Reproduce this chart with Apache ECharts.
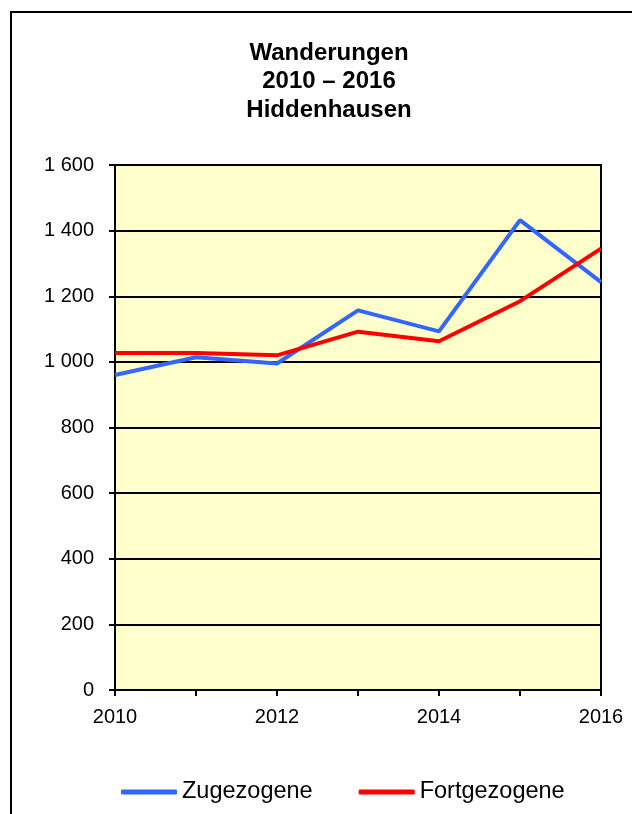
<!DOCTYPE html>
<html><head><meta charset="utf-8">
<script src="https://cdn.jsdelivr.net/npm/echarts@6/dist/echarts.min.js"></script>
<style>html,body{margin:0;padding:0;background:#fff}#c{width:632px;height:814px}</style>
</head><body><div id="c"></div>
<script>
var years = ['2010','2011','2012','2013','2014','2015','2016'];
var zugezogene = [960, 1014, 995, 1157, 1093, 1432, 1243];
var fortgezogene = [1027, 1027, 1020, 1092, 1063, 1185, 1345];
var yTicks = [0, 200, 400, 600, 800, 1000, 1200, 1400, 1600];

var chart = echarts.init(document.getElementById('c'));
chart.setOption({
  animation: false,
  backgroundColor: '#fff',
  graphic: [{
    type: 'rect', silent: true, z: 100,
    shape: { x: 11, y: 12, width: 700, height: 900 },
    style: { fill: 'none', stroke: '#000', lineWidth: 2 }
  }],
  title: {
    text: 'Wanderungen\n2010 – 2016\nHiddenhausen',
    left: 324, top: 34, textAlign: 'center',
    textStyle: { fontFamily: 'Liberation Sans, Arial', fontWeight: 'bold', fontSize: 24, lineHeight: 28.5, color: '#000' }
  },
  grid: {
    left: 115, right: 31, top: 165, bottom: 124,
    show: true, backgroundColor: '#FFFFCC', borderColor: '#000', borderWidth: 2
  },
  legend: {
    top: 775, left: 116,
    itemWidth: 56, itemHeight: 5, itemGap: 46, icon: 'roundRect',
    textStyle: { fontFamily: 'Liberation Sans, Arial', fontSize: 23.5, color: '#000' },
    data: ['Zugezogene', 'Fortgezogene']
  },
  xAxis: {
    type: 'category', data: years, boundaryGap: false,
    axisLine: { lineStyle: { color: '#000', width: 2 } },
    axisTick: { show: true, interval: 0, length: 6, lineStyle: { color: '#000', width: 2 } },
    axisLabel: { interval: 1, color: '#000', fontFamily: 'Liberation Sans, Arial', fontSize: 20, margin: 17 },
    splitLine: { show: false }
  },
  yAxis: {
    type: 'value', min: yTicks[0], max: yTicks[yTicks.length-1], interval: 200,
    axisLine: { show: true, lineStyle: { color: '#000', width: 2 } },
    axisTick: { show: true, length: 6, lineStyle: { color: '#000', width: 2 } },
    axisLabel: { color: '#000', fontFamily: 'Liberation Sans, Arial', fontSize: 20, margin: 21,
      formatter: function (v) { return String(v).replace(/\B(?=(\d{3})+(?!\d))/g, ' '); } },
    splitLine: { show: true, lineStyle: { color: '#000', width: 2 } }
  },
  series: [
    { name: 'Zugezogene', type: 'line', data: zugezogene, showSymbol: false, symbol: 'none',
      itemStyle: { color: '#3366FF' }, lineStyle: { color: '#3366FF', width: 4 } },
    { name: 'Fortgezogene', type: 'line', data: fortgezogene, showSymbol: false, symbol: 'none',
      itemStyle: { color: '#FF0000' }, lineStyle: { color: '#FF0000', width: 4 } }
  ]
});
</script></body></html>
